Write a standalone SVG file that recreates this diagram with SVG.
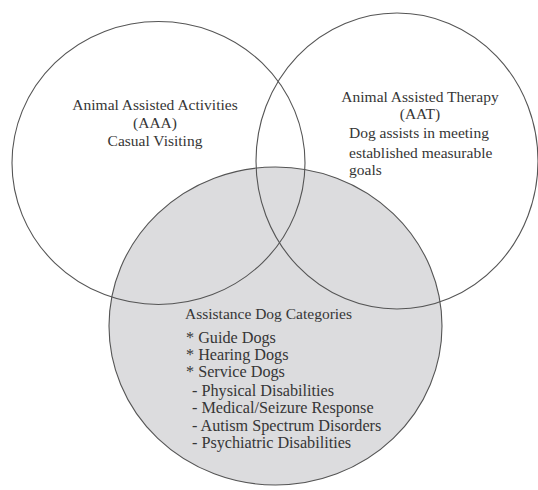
<svg xmlns="http://www.w3.org/2000/svg" width="538" height="490" viewBox="0 0 538 490">
<style>
.c{fill:none;stroke:#555;stroke-width:1.1}
.g{fill:#dcdcde;stroke:#555;stroke-width:1.1}
text{font-family:"Liberation Serif","Times New Roman",serif;fill:#363636;font-size:15.5px}
.m{text-anchor:middle}
.l{font-size:16.2px}
</style>
<rect width="538" height="490" fill="#fff"/>
<g id="adc">
<ellipse class="g" cx="275.5" cy="326" rx="166.5" ry="159"/>
</g>
<g id="aaa">
<ellipse class="c" cx="158.5" cy="163" rx="146.5" ry="141.5"/>
<text class="m" x="155" y="110">Animal Assisted Activities</text>
<text class="m" x="155" y="128">(AAA)</text>
<text class="m" x="155" y="146">Casual Visiting</text>
</g>
<g id="aat">
<ellipse class="c" cx="397" cy="161" rx="141" ry="148"/>
<text class="m" x="420" y="102">Animal Assisted Therapy</text>
<text class="m" x="420" y="119">(AAT)</text>
<text x="349" y="138">Dog assists in meeting</text>
<text x="349" y="158">established measurable</text>
<text x="349" y="175">goals</text>
</g>
<g id="adc-text">
<text x="185" y="319">Assistance Dog Categories</text>
<text class="l" x="186" y="343">* Guide Dogs</text>
<text class="l" x="186" y="360">* Hearing Dogs</text>
<text class="l" x="186" y="377">* Service Dogs</text>
<text class="l" x="192" y="396">- Physical Disabilities</text>
<text class="l" x="192" y="413">- Medical/Seizure Response</text>
<text class="l" x="192" y="431">- Autism Spectrum Disorders</text>
<text class="l" x="192" y="448">- Psychiatric Disabilities</text>
</g>
<g id="connectors"/>
</svg>
